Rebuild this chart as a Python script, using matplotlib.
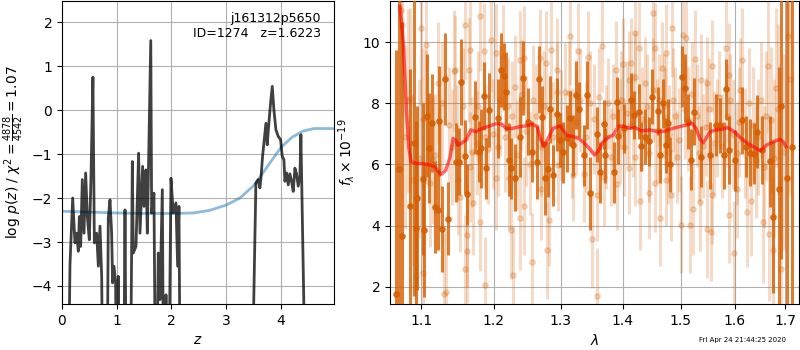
import matplotlib
matplotlib.use("Agg")
import matplotlib.pyplot as plt
from matplotlib.ticker import FixedLocator, FixedFormatter, NullLocator

# ---------------- redshift probability ----------------
z_grid = [0.10, 0.146, 0.195, 0.237, 0.268, 0.298, 0.317, 0.341, 0.371, 0.402,
          0.432, 0.463, 0.499, 0.530, 0.565, 0.591, 0.633, 0.664, 0.694, 0.725,
          0.755, 0.816, 0.846, 0.877, 0.907, 0.925, 0.950, 0.980, 0.999, 1.029,
          1.059, 1.12, 1.151, 1.181, 1.242, 1.285, 1.303, 1.352, 1.400, 1.425,
          1.473, 1.498, 1.534, 1.559, 1.622, 1.638, 1.680, 1.717, 1.759, 1.790,
          1.833, 1.863, 1.90, 1.94, 1.991, 2.033, 2.082, 2.113, 2.137, 2.167,
          2.40, 3.00, 3.45, 3.543, 3.586, 3.616, 3.635, 3.665, 3.726, 3.750,
          3.775, 3.811, 3.842, 3.872, 3.909, 3.951, 3.994, 4.024, 4.055, 4.073,
          4.104, 4.134, 4.164, 4.195, 4.225, 4.256, 4.286, 4.316, 4.347, 4.365,
          4.469, 4.80]
log_pz = [-8.0, -3.52, -2.00, -3.02, -2.80, -3.21, -2.42, -3.10, -1.58, -2.80,
          -1.43, -2.42, -2.95, -1.51, 0.75, -3.02, -2.80, -3.55, -2.64, -3.78,
          -8.0, -8.0, -2.45, -2.04, -2.80, -3.93, -3.55, -3.93, -8.0, -3.78,
          -8.0, -8.0, -2.27, -8.0, -8.0, -1.17, -3.25, -3.10, -0.98, -2.80,
          -1.28, -2.19, -1.36, -2.80, 1.58, -2.34, -1.89, -8.0, -3.25, -4.31,
          -1.81, -8.0, -4.20, -8.0, -1.55, -2.34, -2.11, -3.55, -2.19, -8.0,
          -9.0, -9.0, -8.0, -1.66, -1.58, -1.77, -1.55, -1.05, -0.30, -0.79,
          -0.37, 0.16, 0.54, 0.00, -0.45, -0.60, -0.67, -1.05, -1.13, -1.62,
          -1.43, -1.70, -1.45, -1.62, -1.85, -1.32, -1.45, -1.73, -1.50, -0.56,
          -8.0, -9.0]

prior_z = [0.0, 0.5, 1.0, 1.5, 2.0, 2.4, 2.7, 3.0, 3.25, 3.5, 3.62, 3.8,
           4.0, 4.2, 4.4, 4.6, 4.8, 4.97]
prior_logp = [-2.30, -2.32, -2.34, -2.35, -2.35, -2.34, -2.28, -2.16, -2.00,
              -1.72, -1.52, -1.20, -0.85, -0.62, -0.48, -0.42, -0.42, -0.42]

# ---------------- 1D spectrum ----------------
wave_dark = [1.068, 1.072, 1.0755, 1.086, 1.091, 1.094, 1.095, 1.102, 1.104, 1.108,
             1.110, 1.1145, 1.119, 1.122, 1.1245, 1.128, 1.1325, 1.1365, 1.1465, 1.151,
             1.1545, 1.159, 1.162, 1.1735, 1.1785, 1.182, 1.1855, 1.189, 1.1925, 1.2065,
             1.211, 1.2145, 1.2175, 1.2215, 1.225, 1.230, 1.238, 1.243, 1.2505, 1.2555,
             1.263, 1.2665, 1.271, 1.2755, 1.2805, 1.283, 1.288, 1.2935, 1.299, 1.304,
             1.309, 1.3145, 1.319, 1.324, 1.328, 1.336, 1.3405, 1.3455, 1.357, 1.3625,
             1.368, 1.3705, 1.3855, 1.390, 1.3925, 1.4025, 1.4145, 1.4185, 1.427, 1.4315,
             1.438, 1.445, 1.4495, 1.460, 1.463, 1.469, 1.4735, 1.478, 1.4815, 1.502,
             1.5085, 1.513, 1.5185, 1.524, 1.5365, 1.5535, 1.564, 1.572, 1.580, 1.5835,
             1.589, 1.601, 1.614, 1.6225, 1.630, 1.6375, 1.6435, 1.654, 1.669, 1.675,
             1.687, 1.6915, 1.704, 1.7145]
flux_dark = [1.75, 5.85, 3.65, 4.63, 6.70, 3.92, 4.90, 5.52, 3.86, 7.60,
             6.54, 7.35, 4.60, 4.51, 7.42, 3.88, 8.80, 4.22, 6.07, 6.09,
             8.70, 6.27, 5.03, 7.54, 6.42, 6.53, 8.24, 5.87, 7.78, 7.51,
             9.09, 8.89, 8.38, 6.16, 5.87, 5.56, 6.90, 8.83, 7.40, 6.42,
             6.07, 8.79, 7.56, 5.56, 5.84, 7.80, 5.65, 7.64, 6.80, 6.40,
             6.85, 7.51, 6.63, 8.27, 7.80, 6.30, 8.27, 5.05, 6.98, 5.74,
             7.31, 6.30, 5.74, 8.05, 6.93, 7.18, 8.10, 7.62, 7.73, 6.60,
             6.90, 6.76, 8.22, 7.75, 6.30, 8.00, 6.63, 7.34, 6.00, 8.87,
             8.50, 7.40, 6.16, 7.73, 6.25, 6.30, 7.29, 7.29, 6.30, 8.46,
             6.47, 6.14, 7.45, 6.58, 6.39, 6.35, 7.07, 6.47, 6.10, 4.28,
             5.19, 7.90, 5.54, 6.58]
err_dark = [8.0, 7.0, 7.0, 4.5, 5.0, 3.5, 3.0, 2.5, 2.2, 2.0,
            1.8, 1.6, 1.5, 1.3, 1.8, 1.4, 1.5, 1.2, 1.3, 1.1,
            1.4, 1.2, 1.0, 1.2, 1.0, 1.3, 1.1, 1.0, 1.2, 1.3,
            1.2, 1.1, 1.3, 1.2, 1.0, 1.1, 1.3, 1.2, 1.1, 1.0,
            1.2, 1.1, 1.0, 1.2, 0.9, 1.1, 1.0, 1.2, 0.9, 1.0,
            1.1, 0.9, 1.0, 1.1, 0.9, 1.0, 1.1, 1.2, 0.9, 1.0,
            0.8, 0.9, 1.0, 0.8, 0.9, 0.8, 0.9, 0.8, 0.9, 0.8,
            0.9, 0.8, 0.9, 0.8, 0.9, 0.8, 0.9, 0.8, 0.9, 1.0,
            1.1, 0.9, 1.0, 1.1, 1.0, 1.1, 1.0, 0.9, 1.1, 1.0,
            1.1, 1.0, 1.1, 1.0, 1.1, 1.0, 1.2, 1.1, 1.5, 2.5,
            4.0, 5.0, 6.0, 8.0]

wave_light = [1.074, 1.0755, 1.079, 1.083, 1.086, 1.089, 1.094, 1.097, 1.0995, 1.103,
              1.103, 1.106, 1.1065, 1.112, 1.116, 1.118, 1.122, 1.125, 1.128, 1.131,
              1.134, 1.137, 1.141, 1.144, 1.146, 1.148, 1.150, 1.153, 1.156, 1.159,
              1.159, 1.162, 1.162, 1.165, 1.166, 1.167, 1.169, 1.1705, 1.176, 1.178,
              1.180, 1.1805, 1.1855, 1.187, 1.188, 1.191, 1.196, 1.199, 1.2035, 1.2035,
              1.2065, 1.209, 1.2125, 1.216, 1.2205, 1.222, 1.2245, 1.226, 1.228, 1.2305,
              1.234, 1.2375, 1.2375, 1.240, 1.2435, 1.2445, 1.247, 1.253, 1.256, 1.258,
              1.262, 1.2675, 1.270, 1.270, 1.274, 1.2775, 1.279, 1.2815, 1.285, 1.288,
              1.2935, 1.2935, 1.296, 1.301, 1.3065, 1.312, 1.3145, 1.317, 1.3195, 1.323,
              1.3265, 1.330, 1.336, 1.339, 1.343, 1.346, 1.349, 1.352, 1.357, 1.358,
              1.360, 1.3655, 1.368, 1.372, 1.376, 1.381, 1.384, 1.389, 1.391, 1.395,
              1.397, 1.400, 1.4025, 1.407, 1.410, 1.410, 1.4145, 1.417, 1.420, 1.421,
              1.4205, 1.427, 1.4295, 1.432, 1.438, 1.441, 1.444, 1.445, 1.451, 1.452,
              1.4555, 1.4555, 1.458, 1.461, 1.463, 1.467, 1.470, 1.473, 1.4735, 1.4745,
              1.4775, 1.480, 1.4835, 1.484, 1.487, 1.490, 1.493, 1.497, 1.500, 1.504,
              1.5085, 1.5095, 1.513, 1.517, 1.520, 1.523, 1.5265, 1.530, 1.533, 1.536,
              1.5365, 1.541, 1.546, 1.548, 1.548, 1.552, 1.5555, 1.5575, 1.5575, 1.561,
              1.566, 1.570, 1.576, 1.583, 1.586, 1.589, 1.590, 1.591, 1.596, 1.5985,
              1.604, 1.605, 1.608, 1.611, 1.615, 1.619, 1.624, 1.627, 1.632, 1.635,
              1.6405, 1.646, 1.651, 1.655, 1.6575, 1.661, 1.666, 1.667, 1.671, 1.675,
              1.678, 1.6815, 1.686, 1.6915, 1.698, 1.706, 1.710]
flux_light = [11.06, 10.57, 6.90, 8.10, 8.13, 5.50, 2.32, 6.20, 10.46, 7.50,
              2.43, 7.56, 9.90, 5.40, 6.14, 6.30, 8.66, 5.90, 8.00, 1.77,
              1.82, 7.30, 6.58, 9.06, 9.09, 6.70, 5.49, 4.94, 7.90, 10.57,
              2.56, 3.68, 3.17, 9.09, 5.92, 9.75, 6.40, 4.74, 6.69, 7.90,
              10.86, 4.12, 9.70, 2.04, 6.90, 6.50, 10.08, 7.00, 9.64, 5.54,
              6.58, 8.10, 9.53, 6.90, 7.90, 5.54, 3.85, 7.60, 2.39, 8.55,
              6.30, 9.42, 4.23, 8.27, 9.48, 4.63, 7.10, 6.03, 2.81, 8.10,
              7.60, 9.48, 5.21, 6.58, 7.90, 9.33, 3.19, 4.17, 9.75, 6.90,
              9.09, 8.38, 5.98, 7.30, 8.38, 8.33, 10.20, 6.70, 5.65, 7.40,
              9.70, 8.10, 5.70, 6.90, 9.53, 8.00, 3.57, 7.50, 5.00, 1.68,
              8.22, 9.88, 5.60, 6.90, 8.00, 6.25, 7.60, 9.09, 5.36, 7.10,
              8.10, 9.29, 6.58, 7.70, 5.87, 8.76, 9.31, 7.30, 10.29, 8.87,
              6.25, 9.82, 4.80, 7.50, 8.66, 7.90, 6.36, 5.05, 10.97, 8.44,
              9.80, 5.38, 7.10, 8.11, 4.26, 9.15, 7.90, 7.56, 5.49, 9.64,
              6.42, 7.00, 5.00, 10.46, 8.11, 7.60, 6.25, 6.80, 4.03, 10.24,
              7.78, 10.13, 7.50, 4.03, 8.30, 4.55, 9.44, 7.60, 6.36, 4.78,
              8.77, 6.60, 7.23, 3.88, 8.66, 7.80, 3.79, 9.23, 5.00, 6.69,
              7.20, 8.22, 6.60, 9.80, 7.60, 8.93, 4.36, 8.10, 7.00, 3.10,
              6.36, 5.18, 7.40, 8.44, 9.42, 6.70, 4.43, 8.00, 4.80, 7.30,
              6.14, 6.90, 8.10, 4.12, 5.92, 7.60, 9.23, 3.72, 7.45, 3.19,
              6.20, 8.51, 7.80, 2.59, 6.40, 10.20, 8.80]
err_light = [3.0, 3.0, 3.0, 3.0, 3.0, 2.8, 2.6, 2.6, 2.5, 2.3,
             2.3, 2.2, 2.2, 2.1, 2.1, 2.0, 2.0, 2.0, 2.0, 2.0,
             2.0, 1.9, 1.9, 2.0, 1.8, 1.9, 1.8, 1.8, 1.9, 1.8,
             1.8, 1.7, 1.7, 1.7, 1.8, 1.8, 1.8, 1.7, 1.7, 1.8,
             1.8, 1.6, 1.6, 1.6, 1.7, 1.8, 1.7, 1.8, 1.6, 1.7,
             1.6, 1.8, 1.7, 1.8, 1.6, 1.7, 1.6, 1.8, 1.6, 1.7,
             1.8, 1.6, 1.7, 1.8, 1.7, 1.6, 1.8, 1.7, 1.6, 1.8,
             1.7, 1.6, 1.7, 1.6, 1.8, 1.7, 1.6, 1.5, 1.6, 1.8,
             1.7, 1.6, 1.5, 1.8, 1.6, 1.7, 1.6, 1.8, 1.5, 1.7,
             1.6, 1.7, 1.6, 1.8, 1.5, 1.7, 1.6, 1.8, 1.5, 1.6,
             1.6, 1.5, 1.6, 1.7, 1.5, 1.6, 1.7, 1.6, 1.5, 1.7,
             1.6, 1.5, 1.6, 1.7, 1.5, 1.6, 1.5, 1.7, 1.6, 1.5,
             1.6, 1.5, 1.6, 1.7, 1.5, 1.7, 1.6, 1.5, 1.6, 1.7,
             1.5, 1.6, 1.7, 1.5, 1.6, 1.5, 1.7, 1.6, 1.5, 1.6,
             1.7, 1.6, 1.5, 1.6, 1.7, 1.6, 1.5, 1.7, 1.6, 1.5,
             1.6, 1.5, 1.7, 1.6, 1.7, 1.5, 1.6, 1.7, 1.6, 1.6,
             1.5, 1.7, 1.6, 1.6, 1.5, 1.7, 1.6, 1.5, 1.6, 1.7,
             1.6, 1.5, 1.7, 1.6, 1.7, 1.7, 1.6, 1.5, 1.8, 1.7,
             1.7, 1.6, 1.8, 1.7, 1.7, 1.8, 1.8, 1.8, 1.8, 1.9,
             1.9, 1.9, 1.9, 2.0, 2.0, 2.1, 2.2, 2.2, 2.4, 2.4,
             2.6, 2.6, 2.8, 3.0, 3.2, 3.5, 3.8]

model_wave = [1.0727, 1.077, 1.081, 1.084, 1.087, 1.094, 1.103, 1.112, 1.1185, 1.123,
              1.127, 1.133, 1.139, 1.143, 1.1465, 1.1495, 1.154, 1.161, 1.1675, 1.1745,
              1.1835, 1.194, 1.204, 1.211, 1.2175, 1.227, 1.238, 1.247, 1.2565, 1.264,
              1.269, 1.2745, 1.2805, 1.288, 1.299, 1.309, 1.319, 1.328, 1.3375, 1.3465,
              1.3535, 1.359, 1.367, 1.376, 1.384, 1.3925, 1.3995, 1.412, 1.420, 1.4315,
              1.446, 1.4605, 1.472, 1.486, 1.5035, 1.521, 1.528, 1.536, 1.5415, 1.5535,
              1.5645, 1.577, 1.5865, 1.5995, 1.6125, 1.6255, 1.642, 1.650, 1.662, 1.6755,
              1.689, 1.696, 1.701]
model_flux = [11.17, 9.97, 7.78, 6.58, 6.09, 6.03, 6.03, 5.98, 5.92, 5.76,
              5.68, 5.81, 6.25, 6.85, 6.80, 6.63, 6.69, 6.80, 7.13, 7.07,
              7.18, 7.26, 7.34, 7.32, 7.18, 7.18, 7.24, 7.26, 7.31, 7.24,
              6.80, 6.60, 6.85, 7.18, 7.26, 6.96, 6.91, 6.85, 6.69, 6.49,
              6.31, 6.42, 6.74, 6.89, 6.96, 7.24, 7.26, 7.18, 7.21, 7.10,
              7.13, 7.07, 7.09, 7.18, 7.26, 7.34, 7.18, 6.80, 6.71, 7.07,
              7.13, 7.15, 7.21, 7.07, 6.85, 6.69, 6.52, 6.45, 6.63, 6.74,
              6.82, 6.74, 6.58]

z_ticks = [0, 1, 2, 3, 4]
pz_ticks = [-4, -3, -2, -1, 0, 1, 2]
wave_ticks = [1.1, 1.2, 1.3, 1.4, 1.5, 1.6, 1.7]
flux_ticks = [2, 4, 6, 8, 10]

label_text = "j161312p5650\nID=1274   z=1.6223"
stamp = "Fri Apr 24 21:44:25 2020"

grism_color = (0.8353, 0.3686, 0.0)

fig = plt.figure(figsize=(8, 3.5), dpi=100)
ax1 = fig.add_axes([0.0775, 0.1314, 0.340, 0.8657])
ax2 = fig.add_axes([0.4875, 0.1314, 0.5113, 0.8657])

# left: p(z)
ax1.plot(prior_z, prior_logp, color="tab:blue", alpha=0.5, lw=2, zorder=2)
ax1.plot(z_grid, log_pz, color="k", alpha=0.75, lw=2, zorder=3)
ax1.set_xlim(0, 4.97)
ax1.set_ylim(-4.41, 2.48)
ax1.set_xticks(z_ticks)
ax1.set_yticks(pz_ticks)
ax1.grid(True, zorder=0)
ax1.set_axisbelow(True)
ax1.set_xlabel("$z$")
ax1.set_ylabel(r"log $p(z)$ / $\chi^2=\frac{4878}{4542}=1.07$")
ax1.text(0.952, 0.965, label_text, ha="right", va="top",
         transform=ax1.transAxes, fontsize=9)

# right: spectrum
ax2.errorbar(wave_light, flux_light, yerr=err_light, color=grism_color,
             alpha=0.22, marker="o", ms=3.8, linestyle="none", elinewidth=2.2,
             zorder=2)
ax2.errorbar(wave_dark, flux_dark, yerr=err_dark, color=grism_color,
             alpha=0.8, marker="o", ms=3.8, linestyle="none", elinewidth=2.2,
             zorder=3)
ax2.plot(model_wave, model_flux, color="r", alpha=0.6, lw=2.5, zorder=4)
ax2.set_xscale("log")
ax2.set_xlim(1.06, 1.728)
ax2.set_ylim(1.43, 11.35)
ax2.xaxis.set_major_locator(FixedLocator(wave_ticks))
ax2.xaxis.set_major_formatter(FixedFormatter([f"{w:.1f}" for w in wave_ticks]))
ax2.xaxis.set_minor_locator(NullLocator())
ax2.set_yticks(flux_ticks)
ax2.grid(True, zorder=0)
ax2.set_axisbelow(True)
ax2.set_xlabel(r"$\lambda$")
ax2.set_ylabel(r"$f_\lambda\times 10^{-19}$")

fig.text(0.9825, 0.029, stamp, ha="right", va="center", fontsize=5)

fig.savefig("out.png", dpi=100)
